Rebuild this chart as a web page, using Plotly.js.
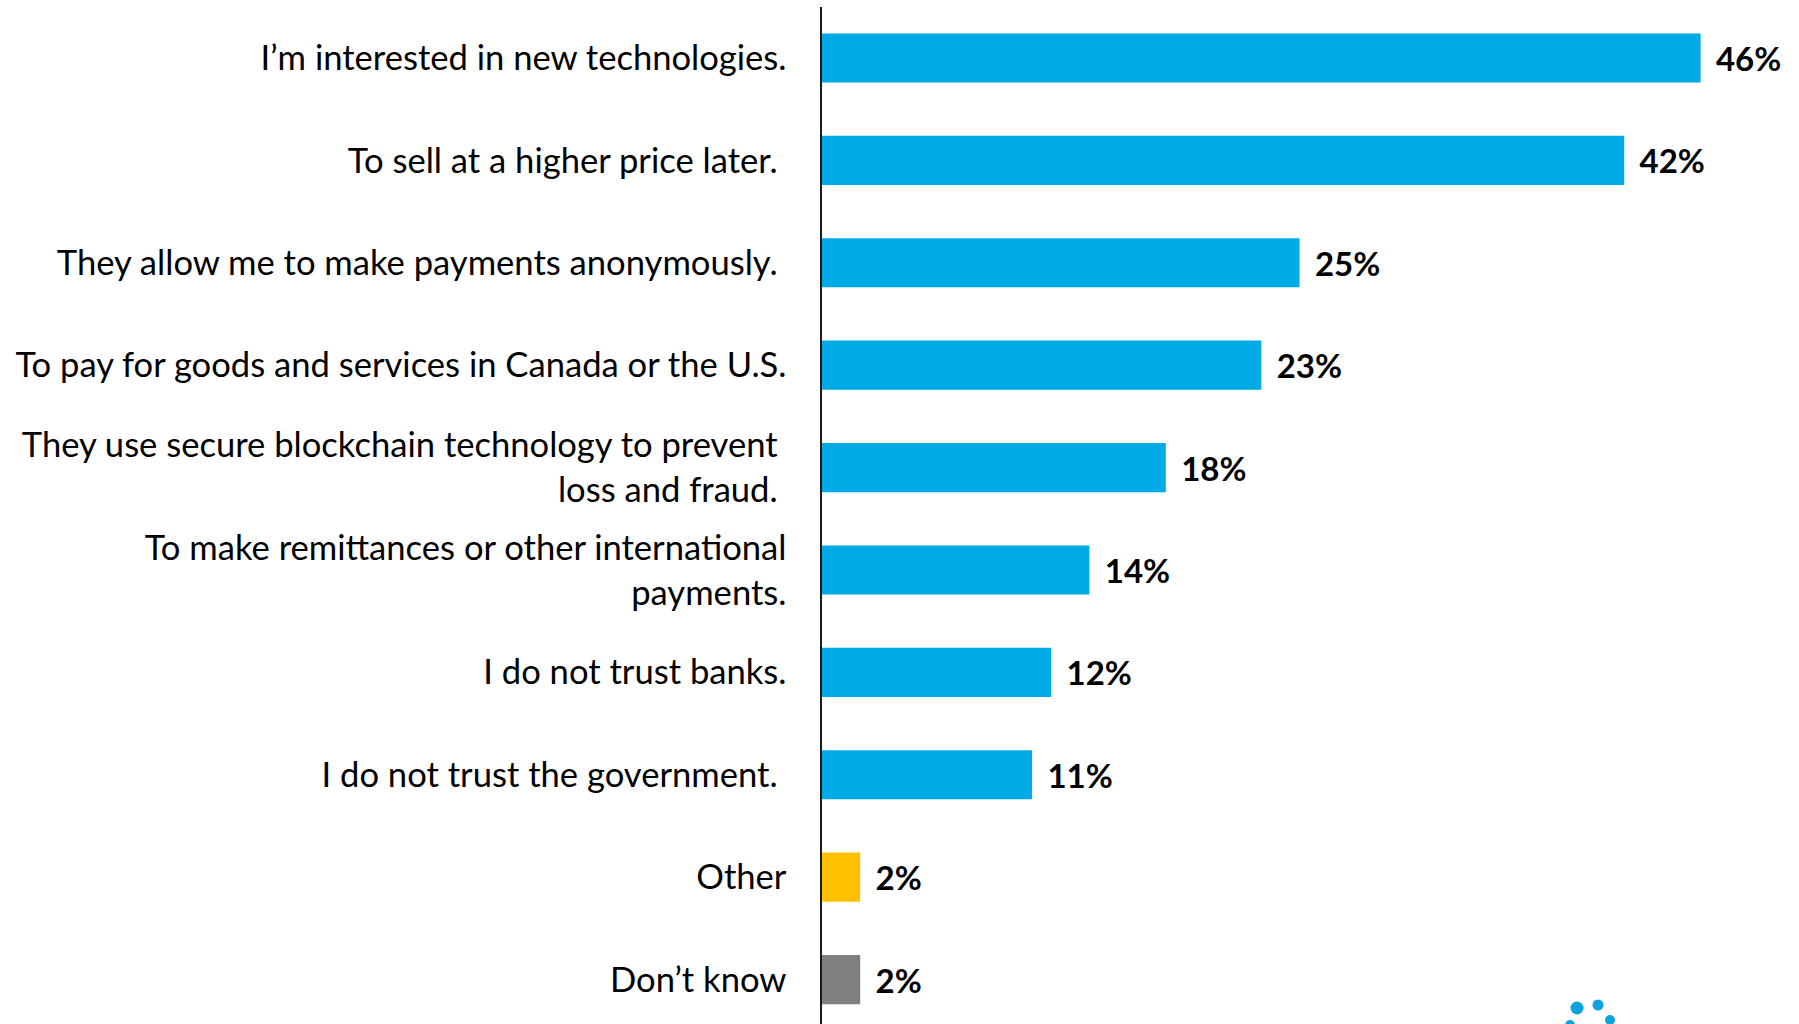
<!DOCTYPE html>
<html>
<head>
<meta charset="utf-8">
<script src="https://cdn.plot.ly/plotly-3.0.1.min.js"></script>
<style>html,body{margin:0;padding:0;background:#fff;}#chart{width:1799px;height:1024px;}</style>
</head>
<body>
<div id="chart"></div>
<script>
const categories = [
  "I\u2019m interested in new technologies.",
  "To sell at a higher price later.\u00a0",
  "They allow me to make payments anonymously.\u00a0",
  "To pay for goods and services in Canada or the U.S.",
  "They use secure blockchain technology to prevent\u00a0<br>loss and fraud.\u00a0",
  "To make remittances or other international<br>payments.",
  "I do not trust banks.",
  "I do not trust the government.\u00a0",
  "Other",
  "Don\u2019t know"
];
const values = [46, 42, 25, 23, 18, 14, 12, 11, 2, 2];
const barColors = ["#00AAE4","#00AAE4","#00AAE4","#00AAE4","#00AAE4","#00AAE4","#00AAE4","#00AAE4","#FFC000","#808080"];

const W = 1799, H = 1024;
const mL = 822, mR = 22, mT = 7, mB = 0;
function px2paperX(px){ return (px - mL) / (W - mL - mR); }
function px2paperY(py){ return 1 - (py - mT) / (H - mT - mB); }
const logoDots = [[1577,1008,6.5],[1598,1005,5.5],[1610,1020,5],[1570,1025,5]];
const shapes = logoDots.map(d => ({
  type: 'circle', xref: 'paper', yref: 'paper', layer: 'above',
  x0: px2paperX(d[0]-d[2]), x1: px2paperX(d[0]+d[2]),
  y0: px2paperY(d[1]+d[2]), y1: px2paperY(d[1]-d[2]),
  fillcolor: '#0FA3DE', line: {width: 0}
}));

const trace = {
  type: 'bar',
  orientation: 'h',
  x: values,
  y: categories,
  marker: {color: barColors, line: {width: 0}},
  text: values.map(v => '\u2009\u2009\u2009' + v + '%'),
  texttemplate: '%{text}',
  textposition: 'outside',
  cliponaxis: false,
  constraintext: 'none',
  textfont: {family: 'Lato, sans-serif', size: 33, weight: 'bold', color: '#000'},
  hoverinfo: 'skip'
};

const layout = {
  width: W, height: H,
  margin: {l: mL, r: mR, t: mT, b: mB, pad: 0},
  paper_bgcolor: '#fff', plot_bgcolor: '#fff',
  showlegend: false,
  bargap: 0.52,
  xaxis: {range: [0, 50], visible: false, fixedrange: true},
  yaxis: {
    type: 'category',
    range: [9.434, -0.498],
    showline: true, linecolor: '#1a1a1a', linewidth: 1.6,
    showgrid: false, zeroline: false,
    ticks: 'outside', ticklen: 27, tickcolor: 'rgba(0,0,0,0)',
    tickfont: {family: 'Lato, sans-serif', size: 34.6, color: '#000'}
  },
  shapes: shapes
};

Plotly.newPlot('chart', [trace], layout, {displayModeBar: false, staticPlot: true});
</script>
</body>
</html>
